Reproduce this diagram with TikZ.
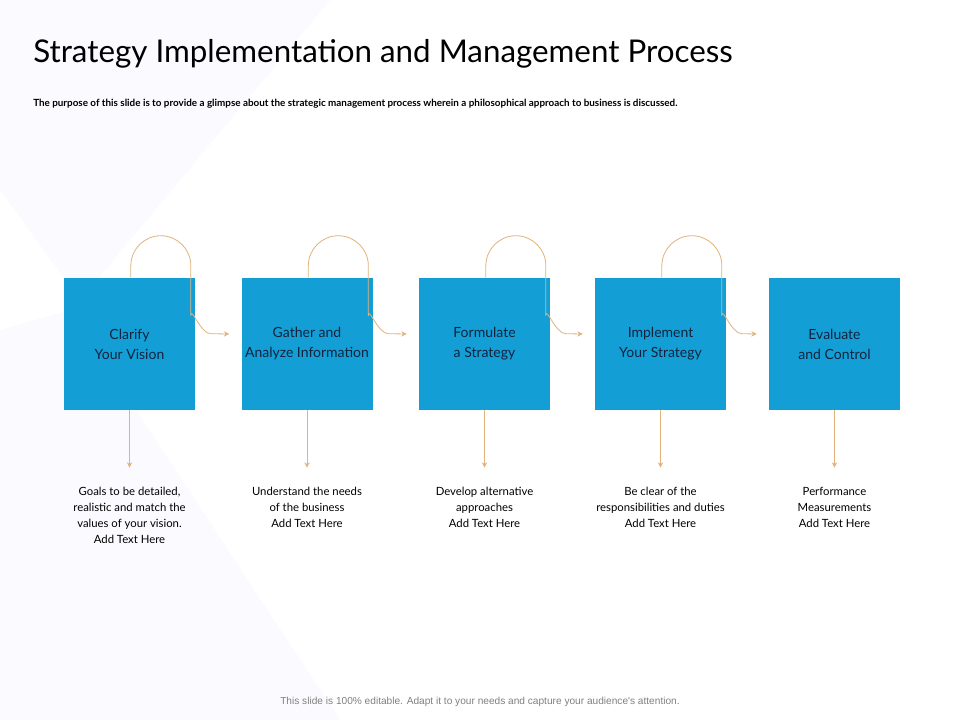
\documentclass[tikz,border=0pt]{standalone}
\usepackage{fontspec}
\setmainfont{Lato}
\newfontfamily\footfont{Liberation Sans}
\usetikzlibrary{arrows.meta}
\definecolor{boxblue}{HTML}{139FD6}
\definecolor{loopcol}{HTML}{E2B27C}
\definecolor{navy}{HTML}{12233F}
\tikzset{
  stepbox/.style={fill=boxblue, minimum width=98.25pt, minimum height=99pt, inner sep=0pt},
  steptext/.style={text=navy, font=\fontsize{10.5}{15}\selectfont, align=center},
  note/.style={font=\fontsize{8.5}{12}\selectfont, align=center, anchor=north},
  flow/.style={draw=loopcol, line width=0.6pt, -{Stealth[length=4pt,width=4pt]}}
}
\begin{document}
\begin{tikzpicture}[x=0.75pt,y=-0.75pt]
    \useasboundingbox (0,0) rectangle (960,720);
    \fill[white] (0,0) rectangle (960,720);
    % faint background shapes
    \fill[blue!2] (0,0) -- (330,0) -- (80,300) -- (0,190) -- cycle;
    \fill[blue!1.5] (0,330) -- (70,310) -- (340,720) -- (0,720) -- cycle;
    % title
    \node[anchor=west, inner sep=0pt, font=\fontsize{23.5}{28}\selectfont] (title) at (33,54) {Strategy Implementation and Management Process};
    \node[anchor=west, inner sep=0pt, font=\bfseries\fontsize{7.4}{9}\selectfont] (sub) at (33,104) {The purpose of this slide is to provide a glimpse about the strategic management process wherein a philosophical approach to business is discussed.};
    % boxes
    \node[stepbox] (b1) at (129.5,344) {};
    \node[stepbox] (b2) at (307,344) {};
    \node[stepbox] (b3) at (484.5,344) {};
    \node[stepbox] (b4) at (660.5,344) {};
    \node[stepbox] (b5) at (834.5,344) {};
    \node[steptext] (t1) at (b1) {Clarify\\Your Vision};
    \node[steptext] (t2) at (b2) {Gather and\\Analyze Information};
    \node[steptext] (t3) at (b3) {Formulate\\a Strategy};
    \node[steptext] (t4) at (b4) {Implement\\Your Strategy};
    \node[steptext] (t5) at (b5) {Evaluate\\and Control};
    % loops between boxes
    \foreach \a/\b in {b1/b2,b2/b3,b3/b4,b4/b5}{
        \draw[flow] ([xshift=1pt]\a.north) -- ++(0,-12) arc[start angle=180, end angle=360, radius=30]
            -- ++(0,50) to[out=90,in=180] ++(20,18) -- ([xshift=-9pt,yshift=7.5pt]\b.west);
    }
    % notes
    \foreach \n/\txt in {1/{Goals to be detailed,\\realistic and match the\\values of your vision.\\Add Text Here},
                         2/{Understand the needs\\of the business\\Add Text Here},
                         3/{Develop alternative\\approaches\\Add Text Here},
                         4/{Be clear of the\\responsibilities and duties\\Add Text Here},
                         5/{Performance\\Measurements\\Add Text Here}}{
        \node[note] (n\n) at ([yshift=-54pt]b\n.south) {\txt};
        \draw[flow] (b\n.south) -- ([yshift=11pt]n\n.north);
    }
    \node[font=\footfont\fontsize{7.6}{9}\selectfont, text=gray] (foot) at (480,702) {This slide is 100\% editable. Adapt it to your needs and capture your audience's attention.};
\end{tikzpicture}
\end{document}
